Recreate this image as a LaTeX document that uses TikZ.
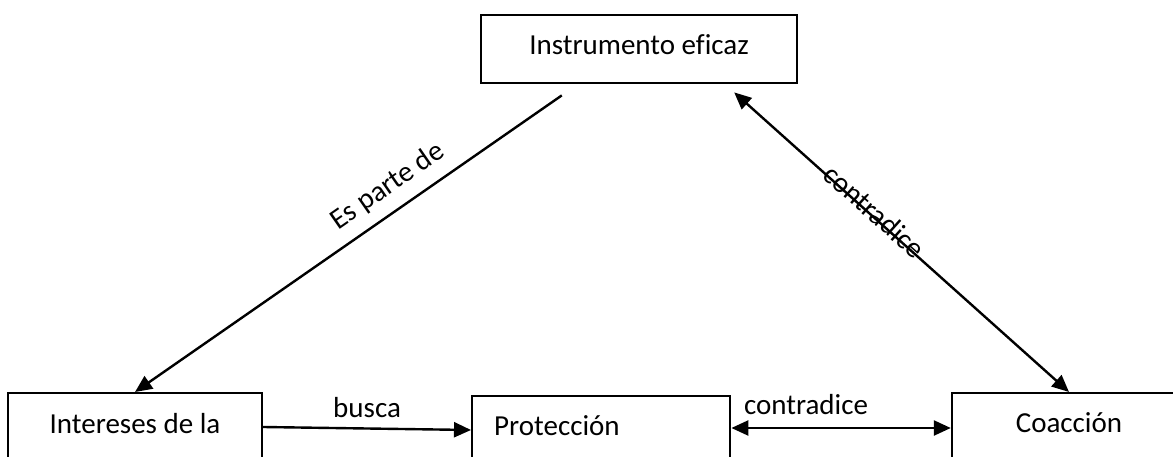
\documentclass[tikz,border=0pt]{standalone}
\usepackage{fontspec}
\setmainfont{Carlito}[Ligatures=NoCommon]
\usetikzlibrary{arrows.meta,calc}
\tikzset{
  box/.style={draw, line width=2.4pt, rectangle, inner sep=0pt, font=\fontsize{29}{34}\selectfont},
  lbl/.style={inner sep=0pt, font=\fontsize{29}{34}\selectfont},
  arr/.style={line width=2.4pt, -{Triangle[length=17pt,width=15pt]}},
  rarr/.style={line width=2.4pt, {Triangle[length=17pt,width=15pt]}-},
  darr/.style={line width=2.4pt, {Triangle[length=17pt,width=15pt]}-{Triangle[length=17pt,width=15pt]}}
}
\begin{document}
\begin{tikzpicture}[x=1pt,y=-1pt]
\useasboundingbox (0,0) rectangle (1173,457);
\clip (0,0) rectangle (1173,457);
\node[box, anchor=north, minimum width=316pt, text height=39pt, text depth=29pt] (top) at (639,14) {Instrumento eficaz};
\node[box, anchor=north, minimum width=254pt, text height=40pt, text depth=40pt] (int) at (135,392) {Intereses de la};
\node[box, anchor=north west, minimum width=258pt, text width=214pt, inner xsep=22pt, align=left, text height=39pt, text depth=40pt] (prot) at (471,395) {Protección};
\node[box, anchor=north, minimum width=234pt, text height=39pt, text depth=40pt] (coac) at (1069,392) {Coacción};
\coordinate (c1) at ([xshift=82pt,yshift=-11pt]top.south west);
\coordinate (c2) at ([xshift=-64pt,yshift=-8pt]top.south east);
\draw[arr] ([yshift=-35pt]int.north east) -- node[lbl, above=10pt] {busca} ([yshift=-35pt]prot.north west);
\draw[darr] ([yshift=-33pt]prot.north east) -- node[lbl, pos=0.34, above=12pt] {contradice} ([yshift=-36pt]coac.north west);
\draw[rarr] (int.north) -- node[lbl, sloped, pos=0.625, above=11pt] {Es parte de} (c1);
\draw[darr] (c2) -- node[lbl, sloped, pos=0.41, yshift=5pt] {contradice} (coac.north);
\end{tikzpicture}
\end{document}
